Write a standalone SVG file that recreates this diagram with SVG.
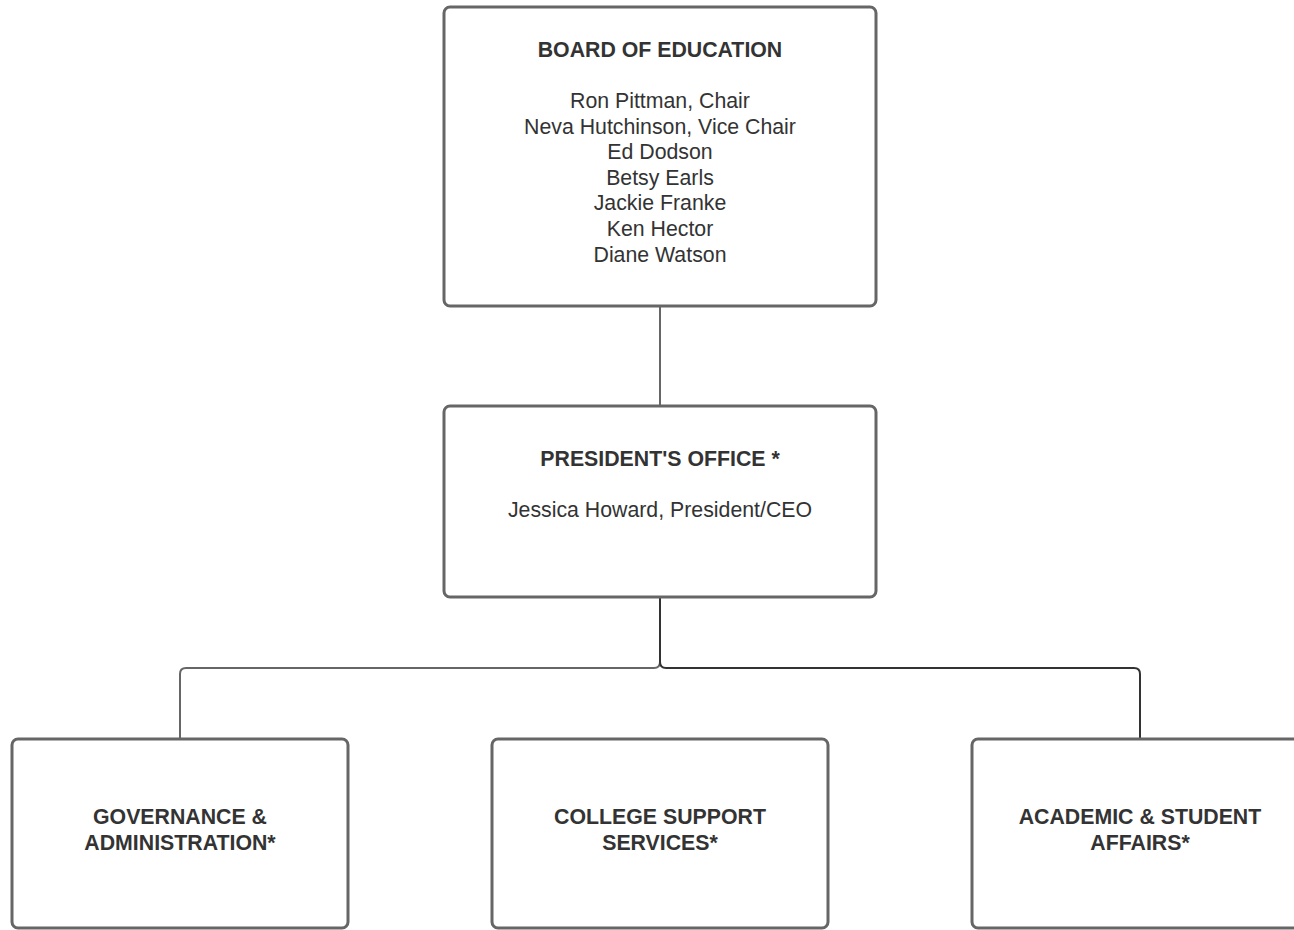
<svg xmlns="http://www.w3.org/2000/svg" width="1294" height="930" viewBox="0 0 1294 930">
<style>
.box{fill:#fff;stroke:#666;stroke-width:3}
.t{font-family:"Liberation Sans",Arial,sans-serif;font-size:21.3px;fill:#333;text-anchor:middle}
.b{font-weight:bold}
.c{fill:none;stroke:#666;stroke-width:2}
.cd{fill:none;stroke:#333;stroke-width:2}
</style>
<rect width="1294" height="930" fill="#fff"/>
<g id="connectors">
<path class="c" d="M660 306 V406"/>
<path class="c" d="M660 597 V662 Q660 668 654 668 H186 Q180 668 180 674 V739"/>
<path class="cd" d="M660 597 V662 Q660 668 666 668 H1134 Q1140 668 1140 674 V739"/>
</g>
<g id="board">
<rect class="box" x="444" y="7" width="432" height="299" rx="6"/>
<text class="t b" x="660" y="57">BOARD OF EDUCATION</text>
<text class="t" x="660" y="108">Ron Pittman, Chair</text>
<text class="t" x="660" y="133.6">Neva Hutchinson, Vice Chair</text>
<text class="t" x="660" y="159.2">Ed Dodson</text>
<text class="t" x="660" y="184.8">Betsy Earls</text>
<text class="t" x="660" y="210.4">Jackie Franke</text>
<text class="t" x="660" y="236">Ken Hector</text>
<text class="t" x="660" y="261.6">Diane Watson</text>
</g>
<g id="president">
<rect class="box" x="444" y="406" width="432" height="191" rx="6"/>
<text class="t b" x="660" y="466">PRESIDENT'S OFFICE *</text>
<text class="t" x="660" y="517">Jessica Howard, President/CEO</text>
</g>
<g id="governance">
<rect class="box" x="12" y="739" width="336" height="189" rx="6"/>
<text class="t b" x="180" y="824">GOVERNANCE &amp;</text>
<text class="t b" x="180" y="849.5">ADMINISTRATION*</text>
</g>
<g id="college">
<rect class="box" x="492" y="739" width="336" height="189" rx="6"/>
<text class="t b" x="660" y="824">COLLEGE SUPPORT</text>
<text class="t b" x="660" y="849.5">SERVICES*</text>
</g>
<g id="academic">
<rect class="box" x="972" y="739" width="336" height="189" rx="6"/>
<text class="t b" x="1140" y="824">ACADEMIC &amp; STUDENT</text>
<text class="t b" x="1140" y="849.5">AFFAIRS*</text>
</g>
</svg>
